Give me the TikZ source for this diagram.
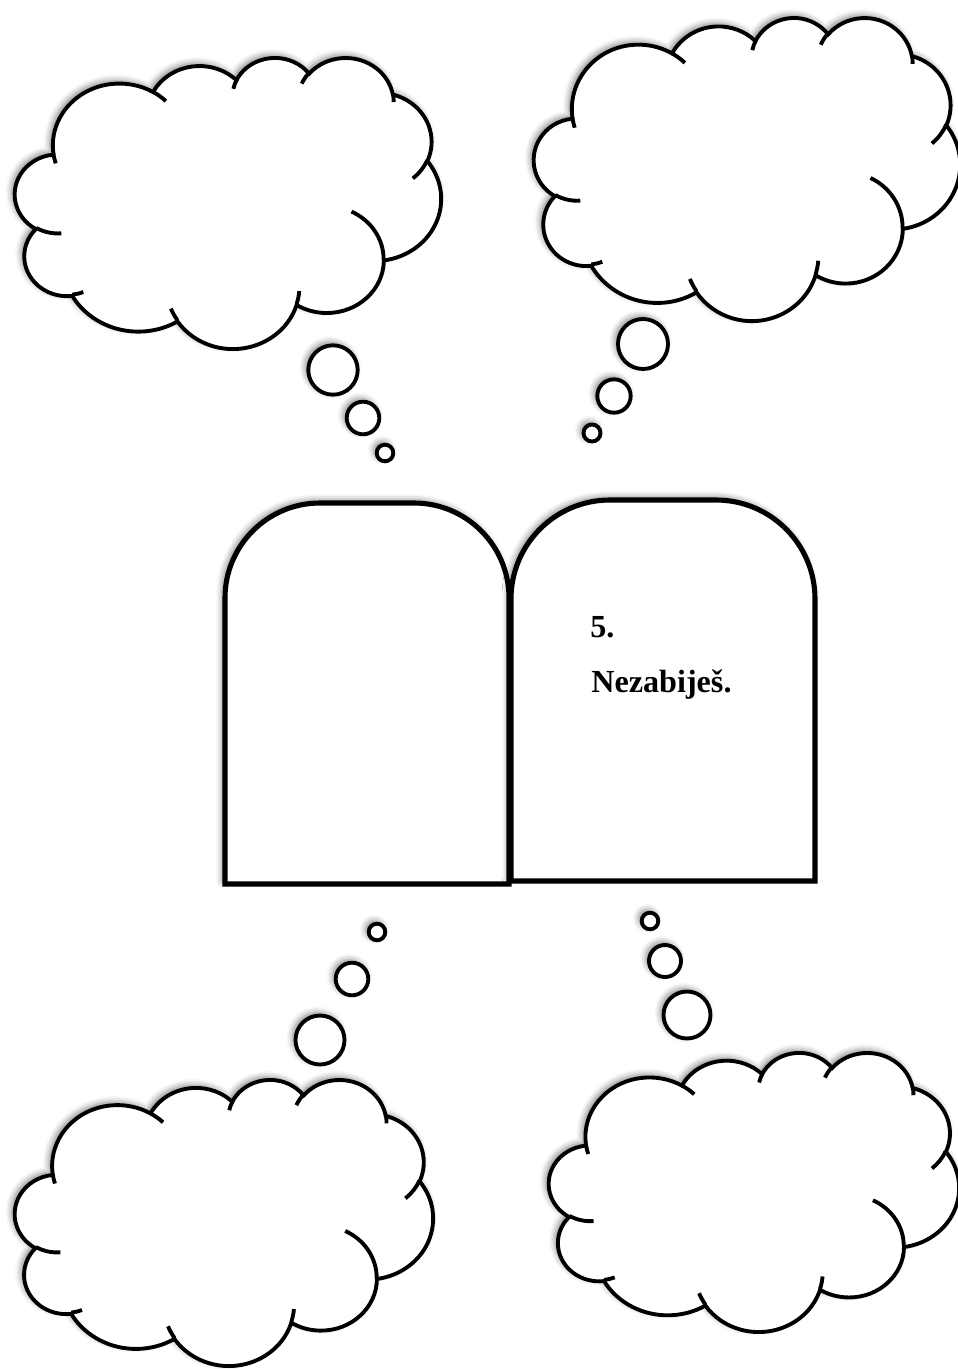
\documentclass[tikz,border=0pt]{standalone}
\usepackage{fontspec}
\setmainfont{Liberation Serif}
\usetikzlibrary{shadows.blur}

% angle on the ellipse, as the office shapes give it
\pgfmathdeclarefunction{ooang}{3}{%
  \begingroup
  \pgfmathsetmacro\ooT{atan2((#2)*sin(#1),(#3)*cos(#1))}%
  \pgfmathsetmacro\ooD{\ooT-(#1)}%
  \pgfmathparse{(#1)+\ooD-360*round(\ooD/360)}%
  \pgfmathsmuggle\pgfmathresult
  \endgroup}
\newcommand\ooarc[4]{arc[x radius=#1, y radius=#2, start angle={ooang(#3,#1,#2)}, delta angle={ooang(#3+#4,#1,#2)-ooang(#3,#1,#2)}]}

\tikzset{
  soft shadow/.style={blur shadow={shadow xshift=-1.6pt, shadow yshift=1.6pt, shadow blur radius=3.5pt, shadow opacity=50}},
  cloudline/.style={draw=black, line width=2.2pt},
  bubble/.style={draw=black, fill=white, line width=2.2pt, soft shadow},
  tablet/.style={draw=black, fill=white, line width=2.9pt, soft shadow},
  tabtext/.style={font=\fontsize{18.3}{21}\selectfont\bfseries, inner sep=0pt}
}

% cloud in the box with top left corner (#1,#2), width #3, height #4
\newcommand\cloud[4]{%
\begin{scope}[shift={(#1,#2)}, xscale=#3/432, yscale=#4/432]
\filldraw[cloudline, fill=white, soft shadow] (39.00,143.70)
  \ooarc{67.53}{91.90}{-190.4875}{123.7805}
  \ooarc{53.33}{72.67}{-144.1024}{89.9452}
  \ooarc{43.65}{59.45}{-145.8079}{99.7230}
  \ooarc{48.57}{65.95}{-130.9861}{117.2417}
  \ooarc{53.33}{72.73}{-78.7089}{109.0269}
  \ooarc{67.75}{92.20}{-46.2673}{130.2690}
  \ooarc{57.85}{78.67}{0.6250}{114.0333}
  \ooarc{67.52}{92.15}{22.4516}{115.1726}
  \ooarc{77.20}{105.43}{66.2426}{75.7110}
  \ooarc{43.60}{59.18}{-274.9421}{146.7356}
  \ooarc{43.45}{59.45}{-246.8285}{152.5189} -- cycle;
\draw[cloudline] (46.93,261.77) \ooarc{43.45}{59.45}{86.7420}{26.4295}
  (69.28,348.99) \ooarc{43.60}{59.18}{73.6105}{11.4475}
  (164.78,390.90) \ooarc{67.52}{92.15}{137.6242}{14.0811}
  (288.27,347.51) \ooarc{67.52}{92.15}{6.4533}{15.9984}
  (341.29,229.54) \ooarc{57.85}{78.67}{-70.2924}{70.9174}
  (417.98,153.54) \ooarc{53.33}{72.73}{30.3180}{27.7515}
  (383.24,54.26) \ooarc{48.57}{65.95}{-13.7443}{14.8589}
  (290.78,39.52) \ooarc{48.57}{65.95}{-149.1815}{18.1954}
  (221.41,47.20) \ooarc{43.65}{59.45}{-163.4943}{17.6897}
  (140.00,51.92) \ooarc{67.53}{91.90}{-66.7070}{12.3194}
  (41.27,157.89) \ooarc{67.53}{91.90}{157.6544}{11.8582};
\end{scope}}

\begin{document}
\begin{tikzpicture}[x=0.02cm, y=-0.02cm]
\useasboundingbox (0,0) rectangle (957,1369);
% clouds
\cloud{15}{57}{426}{291}
\cloud{534}{17}{426}{303}
\cloud{15}{1079}{418}{286}
\cloud{549}{1052}{410}{279}
% thought bubbles
\filldraw[bubble] (333,370) circle (24.7);
\filldraw[bubble] (363,418) circle (16.3);
\filldraw[bubble] (385,453) circle (8.3);
\filldraw[bubble] (643,344) circle (25);
\filldraw[bubble] (614,396) circle (16.7);
\filldraw[bubble] (592,433) circle (8.5);
\filldraw[bubble] (377,932) circle (8.3);
\filldraw[bubble] (352,979) circle (16.3);
\filldraw[bubble] (320,1040) circle (24.5);
\filldraw[bubble] (650,921) circle (8.3);
\filldraw[bubble] (665,961) circle (16);
\filldraw[bubble] (687,1015) circle (23.5);
% tablets
\filldraw[tablet] (225,884) -- (225,598) arc[start angle=180, end angle=270, radius=95]
  -- (414,503) arc[start angle=270, end angle=360, radius=95] -- (509,884) -- cycle;
\filldraw[tablet] (511,881) -- (511,599) arc[start angle=180, end angle=270, radius=99]
  -- (716,500) arc[start angle=270, end angle=360, radius=99] -- (815,881) -- cycle;
\node[tabtext, anchor=base west] (num) at (590,637) {5.};
\node[tabtext, anchor=base west] (law) at (591,692) {Nezabiješ.};
\end{tikzpicture}
\end{document}
